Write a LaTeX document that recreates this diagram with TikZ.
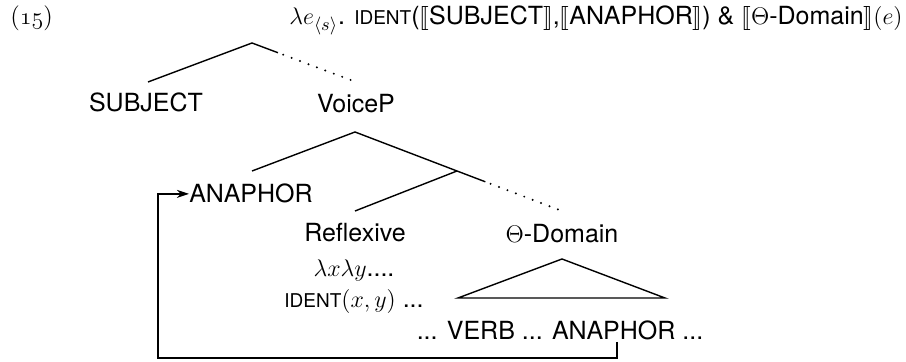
\documentclass[tikz,border=0pt]{standalone}
\usepackage{fontspec}
\setsansfont{TeX Gyre Heros}
\usepackage{amsmath}
\usepackage{stmaryrd}
\usetikzlibrary{arrows.meta,calc}

\newcommand{\identsc}{{\fontsize{9.5}{12}\selectfont IDENT}}

\begin{document}
\begin{tikzpicture}[x=0.5pt,y=-0.5pt,
    lbl/.style={font=\sffamily\fontsize{12.5}{15}\selectfont,inner sep=0pt,anchor=base},
    branch/.style={line width=0.7pt},
    trace/.style={line width=1.1pt,line cap=round,dash pattern=on 0pt off 4.5pt},
    move/.style={line width=0.7pt,-{Stealth[length=6pt,width=4pt]}}]
\useasboundingbox (0,0) rectangle (906,362);
% example number and meaning of the root
\node[lbl,anchor=base west] (exno) at (10,25) {\rmfamily ({\usefont{OML}{cmm}{m}{it}15})};
\node[lbl,anchor=base east] (sem) at (903,25)
  {$\lambda e_{\langle s\rangle}$. \identsc($\llbracket$SUBJECT$\rrbracket$,$\llbracket$ANAPHOR$\rrbracket$) \& $\llbracket\Theta$-Domain$\rrbracket(e)$};
% labels
\node[lbl] (subj) at (146,112) {SUBJECT};
\node[lbl] (voicep) at (356,113) {VoiceP};
\node[lbl] (ana) at (251,203) {ANAPHOR};
\node[lbl] (refl) at (355,242) {Reflexive};
\node[lbl] (dom) at (562,243) {$\Theta$-Domain};
\node[lbl] (lam) at (354,277) {$\lambda x\lambda y$....};
\node[lbl] (ident) at (354,308) {\identsc$(x,y)$ ...};
\node[lbl] (verb) at (560,340) {... VERB ... ANAPHOR ...};
% branching points
\coordinate (root) at (252,43);
\coordinate (subj-t) at (148,82);
\coordinate (voicep-t) at (356,82);
\coordinate (vp) at (355,132);
\coordinate (ana-t) at (252,171);
\coordinate (bar) at (457,171);
\coordinate (refl-t) at (355,211);
\coordinate (dom-t) at (562,211);
\coordinate (tri) at (562,259);
\coordinate (tri-l) at (458,298);
\coordinate (tri-r) at (665,298);
% tree
\draw[branch] (subj-t) -- (root) -- ($(root)!0.25!(voicep-t)$);
\draw[trace] ($(root)!0.3!(voicep-t)$) -- (voicep-t);
\draw[branch] (ana-t) -- (vp) -- (bar) -- ($(bar)!0.27!(dom-t)$);
\draw[branch] (refl-t) -- (bar);
\draw[trace] ($(bar)!0.32!(dom-t)$) -- (dom-t);
\draw[branch] (tri) -- (tri-l) -- (tri-r) -- cycle;
% movement
\coordinate (p-foot) at (617,342);
\coordinate (loop-r) at (617,358);
\coordinate (loop-l) at (158,358);
\draw[move] (p-foot) -- (loop-r) -- (loop-l) |- (ana.west);
\end{tikzpicture}
\end{document}
